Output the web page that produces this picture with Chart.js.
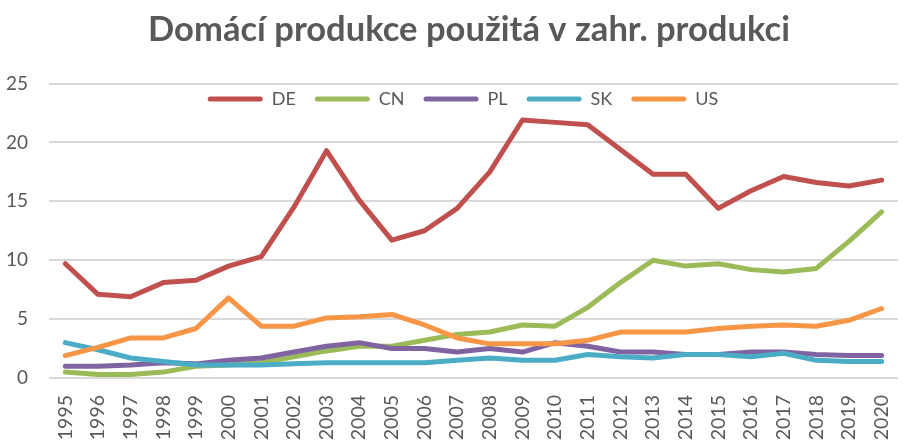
<!DOCTYPE html>
<html><head><meta charset="utf-8">
<script src="https://cdn.jsdelivr.net/npm/chart.js@4.4.0/dist/chart.umd.min.js"></script>
<style>html,body{margin:0;padding:0;background:#fff}#wrap{width:922px;height:447px}</style>
</head><body><div id="wrap"><canvas id="c" width="922" height="447"></canvas></div>
<script>
const titleText = 'Domácí produkce použitá v zahr. produkci';
const years = ['1995','1996','1997','1998','1999','2000','2001','2002','2003','2004','2005','2006','2007','2008','2009','2010','2011','2012','2013','2014','2015','2016','2017','2018','2019','2020'];
const seriesNames = ['DE','CN','PL','SK','US'];
const DE = [9.7,7.1,6.9,8.1,8.3,9.5,10.3,14.5,19.3,15.1,11.7,12.5,14.4,17.5,21.9,21.7,21.5,19.4,17.3,17.3,14.4,15.9,17.1,16.6,16.3,16.8];
const CN = [0.5,0.3,0.3,0.5,1.0,1.1,1.3,1.8,2.3,2.7,2.7,3.2,3.7,3.9,4.5,4.4,6.0,8.1,10.0,9.5,9.7,9.2,9.0,9.3,11.6,14.1];
const PL = [1.0,1.0,1.1,1.3,1.2,1.5,1.7,2.2,2.7,3.0,2.5,2.5,2.2,2.5,2.2,3.0,2.7,2.2,2.2,2.0,2.0,2.2,2.2,2.0,1.9,1.9];
const SK = [3.0,2.4,1.7,1.4,1.1,1.1,1.1,1.2,1.3,1.3,1.3,1.3,1.5,1.7,1.5,1.5,2.0,1.8,1.7,2.0,2.0,1.8,2.1,1.5,1.4,1.4];
const US = [1.9,2.6,3.4,3.4,4.2,6.8,4.4,4.4,5.1,5.2,5.4,4.5,3.4,2.9,2.9,2.9,3.2,3.9,3.9,3.9,4.2,4.4,4.5,4.4,4.9,5.9];
const yMin = 0, yMax = 25, yStep = 5;

const colors = ['#C0504D','#9BBB59','#8064A2','#4BACC6','#F79646'];
const values = [DE, CN, PL, SK, US];
const textColor = '#595959';

// title size to match reference width
const mctx = document.createElement('canvas').getContext('2d');
mctx.font = 'bold 30px Lato';
const tw = mctx.measureText(titleText).width;
const titleSize = Math.max(24, Math.min(36, 30 * 642 / tw));

// Legend is drawn by Chart.js but overlaid on the plot area (as in the reference)
const legendOverlay = {
  id: 'legendOverlay',
  beforeLayout(chart) {
    const lg = chart.legend;
    if (lg && !lg._patched) {
      const orig = lg.fit.bind(lg);
      lg.fit = function () { orig(); this._realHeight = this.height; this.height = 0; };
      lg._patched = true;
    }
  },
  afterLayout(chart) {
    const lg = chart.legend;
    if (lg) {
      lg.top = 71; lg.bottom = 71 + (lg._realHeight || 40);
      lg.left += 2; lg.right += 2;
    }
    const tb = chart.titleBlock;
    if (tb) { tb.left += 8; tb.right += 8; tb.top += 2; tb.bottom += 2; }
  }
};

new Chart(document.getElementById('c'), {
  type: 'line',
  data: {
    labels: years,
    datasets: seriesNames.map((n, i) => ({
      label: n,
      data: values[i],
      borderColor: colors[i],
      backgroundColor: colors[i],
      borderWidth: 5,
      pointRadius: 0,
      tension: 0,
      borderCapStyle: 'round',
      borderJoinStyle: 'round',
      fill: false,
      order: 5 - i
    }))
  },
  options: {
    responsive: false,
    animation: false,
    layout: { padding: 0 },
    plugins: {
      title: {
        display: true,
        text: titleText,
        color: textColor,
        font: { family: 'Lato', size: titleSize, weight: 'bold', lineHeight: 1.2 },
        padding: { top: 28 - 0.6 * titleSize, bottom: 83.5 - (28 - 0.6 * titleSize) - 1.2 * titleSize }
      },
      legend: {
        position: 'top',
        labels: {
          color: textColor,
          font: { family: 'Lato', size: 18 },
          boxWidth: 55,
          boxHeight: 5,
          useBorderRadius: true,
          borderRadius: 2.5,
          padding: 19,
          sort: (a, b) => a.datasetIndex - b.datasetIndex,
          generateLabels(chart) {
            const items = Chart.defaults.plugins.legend.labels.generateLabels(chart);
            items.forEach(it => { it.lineWidth = 0; it.fillStyle = it.strokeStyle; });
            return items;
          }
        }
      },
      tooltip: { enabled: false }
    },
    scales: {
      x: {
        type: 'category',
        offset: true,
        grid: { display: false, drawTicks: false },
        border: { display: false },
        ticks: {
          color: textColor,
          font: { family: 'Lato', size: 19.5 },
          minRotation: 90, maxRotation: 90,
          padding: 17,
          autoSkip: false
        },
        afterFit(s) { s.height = 69; }
      },
      y: {
        min: yMin, max: yMax,
        grid: { color: '#D9D9D9', lineWidth: 2, drawTicks: false },
        border: { display: false },
        ticks: {
          stepSize: yStep,
          color: textColor,
          font: { family: 'Lato', size: 19 },
          padding: 21
        },
        afterFit(s) { s.width = 49; }
      }
    }
  },
  plugins: [legendOverlay]
});
</script></body></html>
